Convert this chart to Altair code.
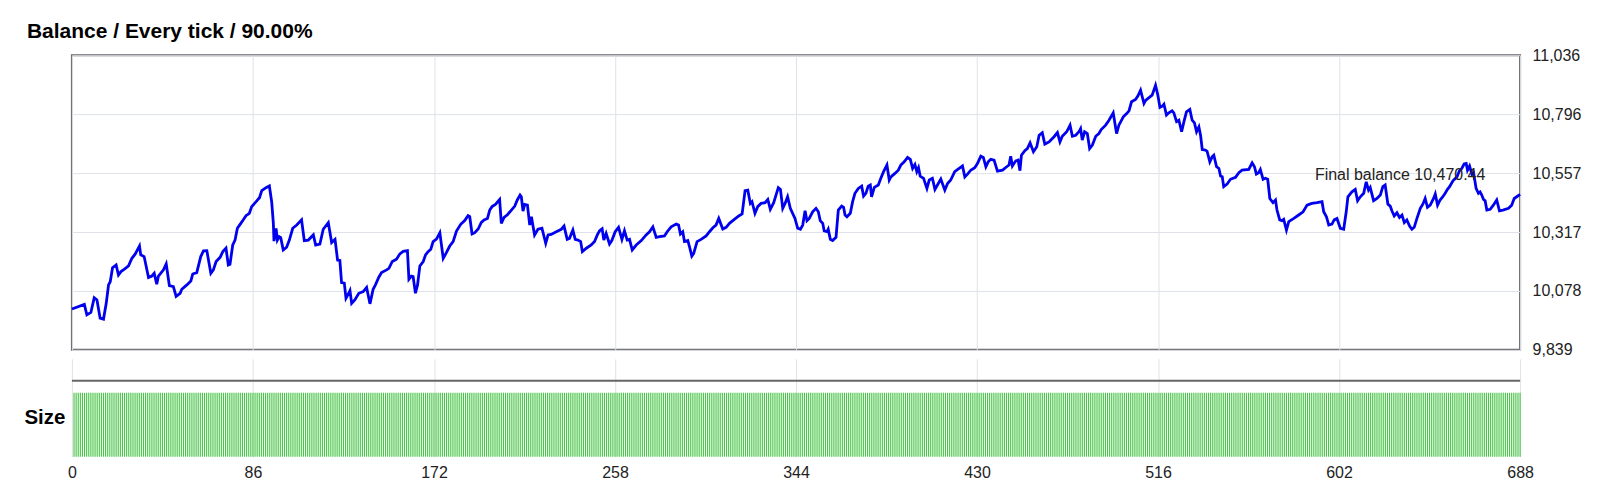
import altair as alt
import pandas as pd

FONT = "Liberation Sans, Arial, sans-serif"

trade_no = [
    0, 5.9, 7.1, 9.0, 10.6, 11.9, 13.4, 15.0, 16.3, 17.4, 18.2, 19.3, 21.0, 22.1, 23.3, 24.8,
    26.9, 28.5, 30.1, 32.1, 32.7, 34.3, 36.4, 38.0, 39.1, 40.3, 41.1, 43.5, 44.8, 46.3, 48.2,
    49.5, 51.4, 52.2, 54.6, 56.5, 57.4, 59.3, 61.2, 62.5, 64.1, 66.0, 67.2, 68.5, 70.4, 71.7,
    73.2, 74.3, 75.1, 76.4, 77.5, 78.6, 79.9, 81.5, 82.7, 84.3, 85.4, 87.5, 89.1, 90.2, 92.2,
    93.8, 94.9, 95.7, 96.0, 97.0, 97.6, 98.5, 99.2, 100.4, 102.0, 103.3, 104.9, 106.8, 109.1,
    110.4, 112.3, 114.7, 115.8, 117.8, 119.4, 121.8, 123.4, 125.0, 126.2, 127.3, 128.1, 129.4,
    130.2, 131.3, 132.1, 132.9, 134.4, 136.3, 138.4, 140.0, 141.6, 143.1, 144.2, 145.8, 147.1,
    149.5, 150.6, 152.2, 154.2, 155.8, 157.4, 159.4, 160.1, 161.3, 162.1, 163.2, 164.2, 165.3,
    166.9, 168.0, 169.2, 170.5, 171.6, 173.2, 174.8, 176.4, 177.9, 179.5, 181.1, 182.7, 184.7,
    186.6, 188.2, 189.0, 190.1, 191.4, 193.0, 194.5, 195.8, 197.4, 198.5, 199.6, 201.2, 203.2,
    204.0, 205.3, 206.9, 208.8, 210.4, 211.6, 212.9, 213.5, 214.3, 215.1, 216.4, 217.5, 218.3,
    219.8, 221.4, 223.3, 225.1,
    226.2, 227.7, 230.1, 232.5, 233.8, 235.3, 236.4, 238.0, 239.1, 240.4, 241.7, 242.5, 244.4,
    246.7, 248.3, 249.6, 250.7, 251.9, 252.7, 253.8, 255.4, 256.5, 258.1, 259.7, 261.3, 262.5,
    263.8, 264.9, 266.2, 268.1, 270.5, 272.8, 274.4, 276.0, 277.6, 279.2, 281.5, 282.8, 284.7,
    287.1, 288.2, 289.1, 290.2, 291.0, 292.6, 293.4, 294.5, 295.4, 297.0, 298.9, 301.3, 302.9,
    304.5, 306.0, 307.3, 309.2, 310.8, 312.4, 314.7, 316.8, 318.4, 319.8, 321.1, 322.3, 323.1,
    324.5, 325.8, 327.4, 329.3, 330.6, 331.8, 333.4, 334.5, 335.6, 336.6, 337.7, 338.8, 340.0,
    341.3,
    343.5, 344.8, 346.1, 347.2, 348.3, 349.2, 350.3, 351.9, 353.5, 354.6, 355.5, 356.7, 357.4,
    358.7, 359.3, 360.3, 361.4, 363.0, 364.1, 365.7, 366.6, 367.3, 368.2, 369.8, 370.9, 372.0,
    373.6, 375.2, 376.1, 377.2, 378.3, 379.3, 379.9, 381.2, 383.1, 384.3, 385.6, 387.2, 388.3,
    389.1, 391.0, 392.6, 393.8, 395.4, 397.0, 398.3, 399.4, 400.5, 401.4, 402.2, 403.0, 404.6,
    406.2, 407.3, 408.8, 410.0, 411.2, 412.8, 414.7, 416.0, 417.5, 419.4, 421.5, 423.1, 424.2,
    425.5, 427.0, 428.9, 430.2, 431.8, 433.0, 434.2, 435.3, 436.5, 438.1, 439.7, 442.1, 444.1,
    445.2, 446.0, 446.8, 448.4, 449.5, 450.4, 451.1, 452.7, 453.9, 455.2,
    456.8, 458.4, 459.5, 461.0, 462.2, 464.2, 466.6, 468.2, 469.4, 470.5, 472.6, 474.2, 475.3,
    476.9, 478.4, 479.2, 480.0, 481.1, 482.4, 483.5, 484.8, 486.4, 487.9, 489.0, 491.1, 492.7,
    494.7, 496.3, 497.4, 499.5, 501.1, 502.2, 503.4, 505.3, 506.4, 507.7, 509.3, 510.1, 511.7,
    513.2, 514.8, 515.9, 516.9, 518.0, 518.8, 520.0, 521.1, 522.7, 523.5, 524.8, 525.9, 527.2,
    528.3, 529.5, 531.1, 532.2, 533.3, 534.3, 535.4, 536.2, 537.0, 538.5, 539.3, 540.6, 541.7,
    542.5, 543.8, 544.9, 545.7, 546.5, 547.2, 548.8, 550.4, 552.8, 554.4, 555.9, 559.1, 560.7,
    561.8, 562.7, 563.8, 564.6, 565.9, 567.0, 568.1, 569.1,
    570.6, 571.8, 572.5, 573.8, 574.9, 575.7, 577.0, 578.1, 580.5, 582.8, 584.9, 586.8, 589.1,
    591.5, 593.9, 594.7, 596.0, 597.1, 598.6, 599.7, 601.0, 602.6, 604.2, 605.4, 606.2, 608.1,
    609.7, 610.8, 612.1, 613.7, 614.9, 616.0, 616.8, 618.4, 620.0, 621.6, 622.8, 623.9, 625.2,
    626.3, 627.1, 628.2, 629.5, 630.7, 631.9, 633.0, 634.2, 635.5, 636.6, 637.7, 639.0, 640.6,
    641.8, 642.9, 644.0, 645.3, 646.9, 647.7, 648.8, 650.0, 651.3, 652.4, 653.5, 654.5, 656.1,
    658.0, 659.2, 660.3, 661.4, 662.4, 663.0, 664.0, 665.1, 665.9, 667.1, 668.2, 669.0, 669.8,
    670.6, 671.4, 672.2, 673.8, 675.3, 676.9, 678.2, 679.8, 682.5, 684.0, 685.2, 686.4, 688.0,
]

balance = [
    10005, 10024, 9981, 9991, 10051, 10042, 9968, 9964, 10028, 10103, 10116, 10173, 10184, 10143, 10157, 10166,
    10180, 10211, 10229, 10261, 10225, 10218, 10133, 10139, 10150, 10106, 10139, 10164, 10188, 10100, 10096,
    10056, 10069, 10085, 10103, 10119, 10147, 10153, 10218, 10241, 10242, 10150, 10164, 10198, 10215, 10238,
    10252, 10184, 10187, 10265, 10285, 10333, 10349, 10369, 10384, 10394, 10421, 10441, 10457, 10486, 10498,
    10505, 10441, 10353, 10281, 10333, 10285, 10299, 10295, 10245, 10256, 10285, 10333, 10346, 10367,
    10283, 10285, 10306, 10265, 10269, 10329, 10356, 10275, 10288, 10204, 10202, 10112, 10110,
    10049, 10066, 10080, 10028, 10042, 10069, 10076, 10093, 10026, 10085, 10103, 10134, 10153,
    10164, 10170, 10198, 10207, 10229, 10239, 10242, 10126, 10139, 10137, 10069, 10103, 10180,
    10198, 10225, 10238, 10248, 10279, 10289, 10315, 10211, 10234, 10261, 10279, 10322, 10349,
    10364, 10384, 10380, 10310, 10315, 10330, 10357, 10367, 10373, 10407, 10421, 10430, 10450,
    10353, 10377, 10388, 10407, 10423, 10448, 10468, 10461, 10403, 10430, 10427, 10346, 10380,
    10306, 10329, 10333, 10272,
    10306, 10308, 10319, 10329, 10342, 10288, 10292, 10326, 10288, 10285, 10279, 10238, 10252,
    10265, 10279, 10306, 10323, 10331, 10285, 10312, 10269, 10283, 10319, 10337, 10288, 10323,
    10285, 10288, 10245, 10265, 10283, 10306, 10319, 10339, 10296, 10299, 10302, 10319, 10339,
    10350, 10346, 10310, 10319, 10279, 10283, 10258, 10220, 10231, 10279, 10288, 10302, 10319,
    10335, 10346, 10373, 10330, 10337, 10353, 10369, 10383, 10391, 10486, 10488, 10434, 10441,
    10394, 10421, 10434, 10437, 10450, 10410, 10437, 10468, 10498, 10491, 10414, 10434, 10461,
    10414,
    10373, 10333, 10329, 10346, 10404, 10364, 10373, 10400, 10414, 10400, 10364, 10353, 10322,
    10319, 10329, 10288, 10283, 10296, 10407, 10423, 10418, 10387, 10380, 10394, 10441, 10475,
    10495, 10504, 10464, 10475, 10504, 10509, 10461, 10499, 10509, 10536, 10563, 10590, 10529,
    10542, 10556, 10569, 10590, 10603, 10621, 10613, 10576, 10592, 10563, 10579, 10545, 10536,
    10495, 10529, 10536, 10491, 10509, 10533, 10488, 10515, 10529, 10563, 10576, 10586, 10542,
    10553, 10569, 10579, 10596, 10626, 10621, 10583, 10603, 10613, 10610, 10565, 10569, 10583,
    10590, 10626, 10586, 10607, 10610, 10567, 10630, 10648, 10657, 10680,
    10644, 10664, 10711, 10721, 10675, 10684, 10705, 10722, 10684, 10707, 10725, 10752, 10707,
    10711, 10725, 10738, 10691, 10725, 10718, 10657, 10671, 10707, 10718, 10734, 10752, 10772,
    10802, 10718, 10752, 10786, 10799, 10810, 10847, 10856, 10870, 10894, 10840, 10853, 10864,
    10874, 10914, 10874, 10824, 10829, 10837, 10793, 10802, 10810, 10802, 10766, 10772, 10725,
    10766, 10806, 10816, 10772, 10761, 10725, 10745, 10711, 10653, 10651, 10646, 10603, 10623,
    10630, 10583, 10576, 10545, 10542, 10502, 10513, 10532, 10540, 10559, 10569, 10572, 10599,
    10583, 10553, 10559, 10572, 10532, 10536, 10532, 10454,
    10437, 10448, 10407, 10367, 10364, 10369, 10326, 10360, 10373, 10387, 10400, 10427, 10434,
    10437, 10441, 10400, 10380, 10346, 10350, 10367, 10373, 10333, 10329, 10400, 10461, 10481,
    10491, 10445, 10461, 10475, 10522, 10488, 10499, 10445, 10454, 10468, 10502, 10509, 10431,
    10423, 10404, 10383, 10396, 10377, 10387, 10356, 10367, 10342, 10329, 10337, 10373, 10414,
    10431, 10454, 10418, 10427, 10454, 10472, 10427, 10448, 10461, 10475, 10491, 10502, 10526,
    10542, 10567, 10576, 10594, 10596, 10569, 10586, 10553, 10559, 10495, 10475, 10481, 10468,
    10450, 10445, 10407, 10410, 10427, 10448, 10404, 10407, 10414, 10427, 10454, 10461, 10470.44,
]

size_trade = list(range(1, 689))
sizes = [0.1] * 688

x_ticks = [0, 86, 172, 258, 344, 430, 516, 602, 688]
y_ticks = [9839, 10078.4, 10317.8, 10557.2, 10796.6, 11036]

final_label = ["Final balance 10,470.44"]
final_trade = [631]
final_balance = [10549]

title_text = "Balance / Every tick / 90.00%"
size_title = "Size"

GRID = "#dfe2ea"
LABEL = "#222222"

df_bal = pd.DataFrame({"trade": trade_no, "balance": balance})
df_lab = pd.DataFrame({"trade": final_trade, "balance": final_balance, "label": final_label})
df_size = pd.DataFrame({"trade": size_trade, "size": sizes})
df_one = pd.DataFrame({"k": [0]})

x_top = alt.X(
    "trade:Q",
    scale=alt.Scale(domain=[0, 688], nice=False, zero=False),
    axis=alt.Axis(values=x_ticks, labels=False, ticks=False, domain=False, title=None,
                  grid=True, gridColor=GRID, gridWidth=1),
)
y_top = alt.Y(
    "balance:Q",
    scale=alt.Scale(domain=[9839, 11036], nice=False, zero=False),
    axis=alt.Axis(orient="right", values=y_ticks, labelExpr="format(floor(datum.value), ',')",
                  ticks=False, domain=False, title=None, labelPadding=12, labelFontSize=16,
                  labelFont=FONT, labelColor=LABEL, gridColor=GRID, gridWidth=1),
)

line = alt.Chart(df_bal).mark_line(color="#0000ee", strokeWidth=2.8).encode(x=x_top, y=y_top)
text = alt.Chart(df_lab).mark_text(
    fontSize=16, font=FONT, color=LABEL, align="center", baseline="middle"
).encode(x="trade:Q", y="balance:Q", text="label:N")

top = alt.layer(line, text).properties(
    width=1450, height=295,
    view=alt.ViewBackground(stroke="#666666", strokeWidth=2),
)

bars = alt.Chart(df_size).mark_rule(color="#48c448", strokeWidth=1.15).encode(
    x=alt.X(
        "trade:Q",
        scale=alt.Scale(domain=[0, 688], nice=False, zero=False),
        axis=alt.Axis(values=x_ticks, format="d", ticks=False, domain=False, title=None,
                      labelFontSize=16, labelFont=FONT, labelColor=LABEL, labelPadding=8,
                      labelFlush=False, grid=True, gridColor=GRID, gridWidth=1),
    ),
    y=alt.Y(
        "size:Q",
        scale=alt.Scale(domain=[0, 0.1531], nice=False, zero=True),
        axis=alt.Axis(labels=False, ticks=False, domain=False, grid=False, title=size_title,
                      titleAngle=0, titleAlign="right", titleBaseline="middle", titleX=-7,
                      titleY=59, titleFontSize=20.5, titleFontWeight="bold", titleFont=FONT,
                      titleColor="#000000"),
    ),
    y2=alt.datum(0),
)

hr = alt.Chart(df_one).mark_rule(color="#666666", strokeWidth=2).encode(
    x=alt.value(0), x2=alt.value(1450), y=alt.value(22)
)

bottom = alt.layer(bars, hr).properties(
    width=1450, height=98,
    view=alt.ViewBackground(strokeWidth=0),
)

chart = alt.vconcat(top, bottom, spacing=0).properties(
    title=alt.TitleParams(
        title_text, anchor="start", frame="group", dx=-45, offset=-13, baseline="alphabetic",
        fontSize=21, fontWeight="bold", font=FONT, color="#000000",
    ),
    padding={"left": 15, "top": 13, "right": 10, "bottom": 5},
).configure_view(strokeWidth=0)

chart.save("out.html", embed_options={"renderer": "svg", "actions": False})
